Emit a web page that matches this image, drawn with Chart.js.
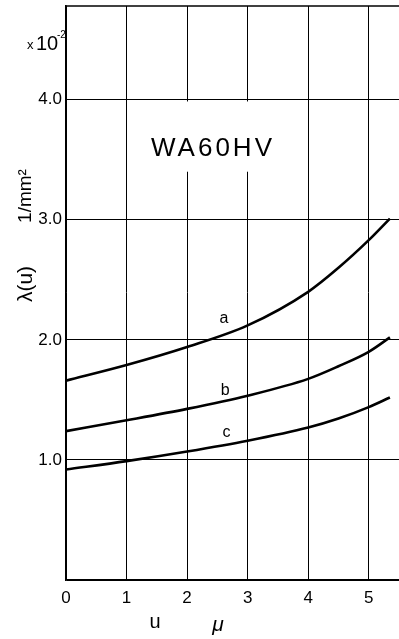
<!DOCTYPE html>
<html>
<head>
<meta charset="utf-8">
<script src="https://cdn.jsdelivr.net/npm/chart.js@4.4.1/dist/chart.umd.min.js"></script>
<style>
  html, body { margin: 0; padding: 0; background: #fff; }
  #wrap { width: 399px; height: 639px; position: relative; }
</style>
</head>
<body>
<div id="wrap"><canvas id="c"></canvas></div>
<script>
// Specimen WA60HV: lambda(u) against u (microns), three curves a, b, c.
const uValues = [0, 1, 2, 3, 4, 4.5, 5, 5.35];
const curveA  = [1.66, 1.79, 1.94, 2.12, 2.40, 2.60, 2.83, 3.01];
const curveB  = [1.24, 1.33, 1.425, 1.535, 1.675, 1.78, 1.90, 2.02];
const curveC  = [0.92, 0.99, 1.07, 1.16, 1.27, 1.345, 1.44, 1.52];
const curveNames = ['a', 'b', 'c'];
const curveLabelAt = [[2.61, 2.18], [2.63, 1.58], [2.65, 1.23]];
const yTickLabels = ['1.0', '2.0', '3.0', '4.0'];
const xTickLabels = ['0', '1', '2', '3', '4', '5'];
const specimen = 'WA60HV';

const FONT = '"Liberation Sans", Arial, sans-serif';
const pts = arr => uValues.map((u, i) => ({ x: u, y: arr[i] }));

const lineStyle = {
  borderColor: '#000',
  borderWidth: 2.6,
  pointRadius: 0,
  fill: false,
  cubicInterpolationMode: 'monotone'
};

const annotate = {
  id: 'annotate',
  beforeDatasetsDraw(chart) {
    const { ctx, chartArea, scales: { x, y } } = chart;
    ctx.save();
    // blank panel behind the specimen name
    ctx.fillStyle = '#fff';
    const x0 = x.getPixelForValue(1.3), x1 = x.getPixelForValue(3.7);
    const y0 = y.getPixelForValue(3.985), y1 = y.getPixelForValue(3.4);
    ctx.fillRect(x0, y0, x1 - x0, y1 - y0);
    // top frame line
    ctx.strokeStyle = '#000';
    ctx.lineWidth = 1.6;
    ctx.beginPath();
    ctx.moveTo(chartArea.left, chartArea.top);
    ctx.lineTo(chartArea.right, chartArea.top);
    ctx.stroke();
    ctx.restore();
  },
  afterDraw(chart) {
    const { ctx, scales: { x, y } } = chart;
    ctx.save();
    ctx.fillStyle = '#000';
    ctx.textAlign = 'center';
    ctx.textBaseline = 'middle';

    // specimen name
    ctx.font = '26px ' + FONT;
    ctx.letterSpacing = '3px';
    ctx.fillText(specimen, 213, 149);
    ctx.letterSpacing = '0px';

    // curve letters
    ctx.font = '16px ' + FONT;
    curveNames.forEach((n, i) => {
      const [u, v] = curveLabelAt[i];
      ctx.fillText(n, x.getPixelForValue(u), y.getPixelForValue(v));
    });

    // scale factor x10^-2
    ctx.textAlign = 'left';
    ctx.font = '13px ' + FONT;
    ctx.fillText('x', 27, 45);
    ctx.font = '20px ' + FONT;
    ctx.fillText('10', 36, 44);
    ctx.font = '10px ' + FONT;
    ctx.fillText('-2', 57, 35);

    // y axis title, rotated
    ctx.save();
    ctx.translate(26, 196);
    ctx.rotate(-Math.PI / 2);
    ctx.textAlign = 'center';
    ctx.font = '19px ' + FONT;
    ctx.fillText('1/mm²', 0, 0);
    ctx.restore();
    ctx.save();
    ctx.translate(26, 284);
    ctx.rotate(-Math.PI / 2);
    ctx.textAlign = 'center';
    ctx.font = '21px ' + FONT;
    ctx.fillText('λ(u)', 0, 0);
    ctx.restore();

    // x axis title
    ctx.textAlign = 'center';
    ctx.font = '20px ' + FONT;
    ctx.fillText('u', 155, 622);
    ctx.font = 'italic 21px ' + FONT;
    ctx.fillText('μ', 218, 625);
    ctx.restore();
  }
};

new Chart(document.getElementById('c'), {
  type: 'line',
  data: {
    datasets: [
      Object.assign({ label: 'a', data: pts(curveA) }, lineStyle),
      Object.assign({ label: 'b', data: pts(curveB) }, lineStyle),
      Object.assign({ label: 'c', data: pts(curveC) }, lineStyle)
    ]
  },
  options: {
    responsive: true,
    maintainAspectRatio: false,
    animation: false,
    layout: { padding: { top: 6, right: 0, left: 0, bottom: 0 } },
    plugins: { legend: { display: false }, tooltip: { enabled: false } },
    scales: {
      x: {
        type: 'linear',
        min: 0,
        max: 5.5,
        afterFit(s) { s.height = 59; s.paddingLeft = 0; s.paddingRight = 0; },
        border: { display: true, color: '#000', width: 1.6 },
        grid: { color: '#000', lineWidth: 1, drawTicks: false },
        ticks: {
          stepSize: 1,
          includeBounds: false,
          padding: 8,
          color: '#000',
          font: { family: FONT, size: 17 },
          callback: v => xTickLabels[v] !== undefined && Number.isInteger(v) ? xTickLabels[v] : ''
        }
      },
      y: {
        type: 'linear',
        min: 0,
        max: 4.78,
        afterFit(s) { s.width = 66; s.paddingTop = 0; s.paddingBottom = 0; },
        border: { display: true, color: '#000', width: 1.6 },
        grid: { color: '#000', lineWidth: 1, drawTicks: false },
        ticks: {
          stepSize: 1,
          includeBounds: false,
          padding: 4,
          color: '#000',
          font: { family: FONT, size: 17 },
          callback: v => (Number.isInteger(v) && v >= 1 && v <= 4) ? yTickLabels[v - 1] : ''
        }
      }
    }
  },
  plugins: [annotate]
});
</script>
</body>
</html>
